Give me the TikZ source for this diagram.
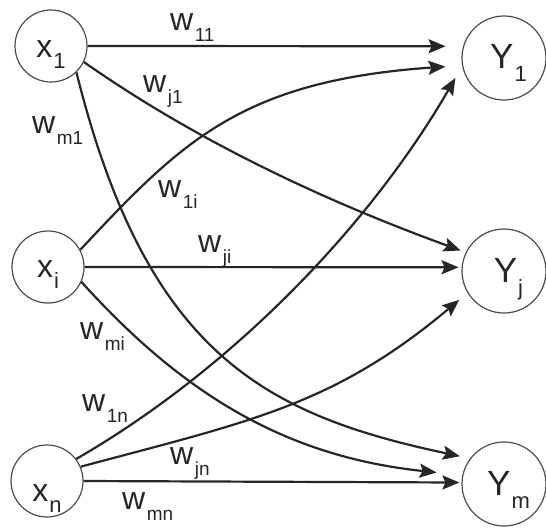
\documentclass[tikz,border=0pt]{standalone}
\usepackage{fontspec}
\setmainfont{Liberation Sans}
\usetikzlibrary{arrows.meta}
\newcommand\wlab[1]{{\fontsize{32}{32}\selectfont w}\kern1.5pt\raisebox{-11pt}{\fontsize{19}{19}\selectfont #1}}
\newcommand\xlab[1]{{\fontsize{32}{32}\selectfont x}\kern1pt\raisebox{-11pt}{\fontsize{22}{22}\selectfont #1}}
\newcommand\ylab[1]{\kern9pt{\fontsize{35}{35}\selectfont Y}\kern1pt\raisebox{-13pt}{\fontsize{22}{22}\selectfont #1}}
\definecolor{ink}{gray}{0.15}
\definecolor{rim}{gray}{0.3}
\tikzset{
  xnode/.style={circle, draw=rim, line width=1.2pt, minimum size=72pt, inner sep=0pt, text=ink, text depth=0pt},
  ynode/.style={circle, draw=rim, line width=1.2pt, minimum size=84pt, inner sep=0pt, text=ink, text depth=0pt},
  arr/.style={draw=ink, line width=2.2pt, -{Stealth[length=17pt,width=14pt,inset=3pt]}},
  wl/.style={anchor=base west, inner sep=0pt, text=ink}
}
\begin{document}
\begin{tikzpicture}[x=1pt,y=1pt]
\useasboundingbox[fill=white] (0,0) rectangle (546,-528);
% input nodes
\node[xnode, text height=22pt] (x1) at (51,-46) {\xlab{1}};
\node[xnode, text height=20pt] (xi) at (48,-267) {\xlab{i}};
\node[xnode, text height=40pt] (xn) at (47,-481) {\xlab{n}};
% output nodes
\node[ynode, text height=20pt] (Y1) at (504,-58) {\ylab{1}};
\node[ynode, text height=22pt] (Yj) at (504,-271) {\ylab{j}};
\node[ynode, text height=22pt] (Ym) at (504,-484) {\ylab{m}};
% connectors
\draw[arr, shorten >=17.5pt] (x1.east) -- (Y1.164.8);
\draw[arr, shorten >=16.7pt] (xi.28.5) to[out=47, in=184, out distance=150pt, in distance=220pt] (Y1.190.7);
\draw[arr, shorten >=13.6pt] (xn.37.6) to[out=30, in=240, distance=182pt] (Y1.191.3);
\draw[arr, shorten >=5.4pt] (x1.-26.6) to[out=-35, in=160, distance=143pt] (Yj.154.4);
\draw[arr, shorten >=10.3pt] (x1.-46) to[out=-76, in=168, out distance=290pt, in distance=210pt] (Ym.143.8);
\draw[arr, shorten >=3pt] (xi.east) -- (Yj.175.9);
\draw[arr, shorten >=25.9pt] (xi.-24.6) to[out=-48, in=174, out distance=160pt, in distance=170pt] (Ym.168.6);
\draw[arr, shorten >=10.8pt] (xn.23.2) to[out=15, in=220, distance=175pt] (Yj.211.8);
\draw[arr, shorten >=2pt] (xn.east) -- (Ym.178.6);
% weight labels
\node[wl] (lw11) at (170,-30) {\wlab{11}};
\node[wl] (lwj1) at (143,-92) {\wlab{j1}};
\node[wl] (lwm1) at (32,-133) {\wlab{m1}};
\node[wl] (lw1i) at (158,-197) {\wlab{1i}};
\node[wl] (lwji) at (198,-252) {\wlab{ji}};
\node[wl] (lwmi) at (80,-339) {\wlab{mi}};
\node[wl] (lw1n) at (82,-411) {\wlab{1n}};
\node[wl] (lwjn) at (170,-464) {\wlab{jn}};
\node[wl] (lwmn) at (122,-509) {\wlab{mn}};
\end{tikzpicture}
\end{document}
